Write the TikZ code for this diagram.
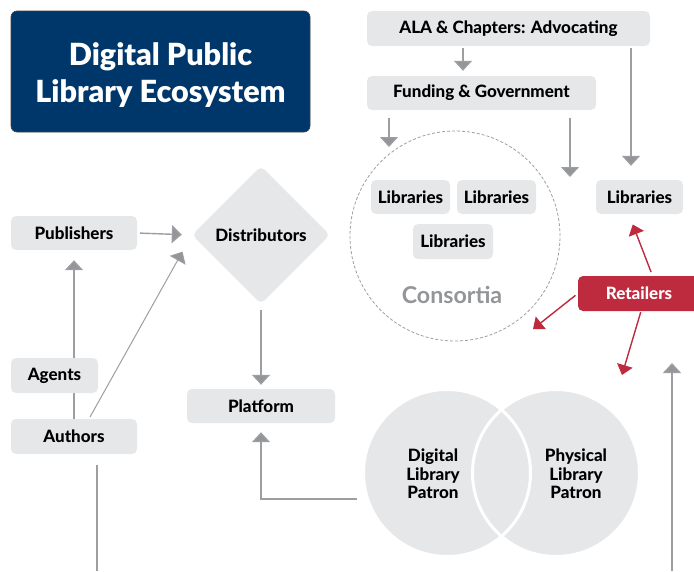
\documentclass[tikz,border=0pt]{standalone}
\usepackage{fontspec}
\setmainfont{Lato}
\newfontfamily\blackfont{Lato Black}
\newfontfamily\heavyfont{Lato Heavy}
\usetikzlibrary{shapes.geometric,arrows.meta,calc}
\definecolor{boxgray}{HTML}{E6E7E8}
\definecolor{linegray}{HTML}{9C9EA1}
\definecolor{navy}{HTML}{00376B}
\definecolor{redbox}{HTML}{BE2A3E}
\definecolor{txtgray}{HTML}{939598}
\begin{document}
\begin{tikzpicture}[x=1pt,y=-1pt,
  boxfont/.style={font=\fontsize{17}{19}\selectfont\heavyfont},
  box/.style={fill=boxgray, rounded corners=5pt, inner sep=0pt, boxfont, text=black},
  arr/.style={draw=linegray, line width=1.4pt, -{Triangle[width=18pt,length=10pt,fill=txtgray]}},
  plainline/.style={draw=linegray, line width=1.4pt},
  redarr/.style={draw=redbox, line width=1.4pt, -{Triangle[width=16pt,length=10pt]}}]
\useasboundingbox (0,0) rectangle (694,571);

% title
\node[fill=navy, draw=black!75, line width=0.6pt, rounded corners=6pt,
      minimum width=299pt, minimum height=121pt, inner sep=0pt] (title) at (160.5,71.5) {};
\node[text=white, align=center, font=\fontsize{30.5}{37}\selectfont\blackfont] (titletext) at (160.5,75)
      {Digital Public\\Library Ecosystem};

% left side
\node[box, minimum width=126pt, minimum height=34pt] (pub) at (74,233) {Publishers};
\node[diamond, aspect=1, fill=boxgray, minimum width=138pt, minimum height=138pt,
      inner sep=0pt, rounded corners=5pt, boxfont] (dist) at (261,235) {Distributors};
\node[box, minimum width=126pt, minimum height=35pt] (authors) at (74,436.5) {Authors};
\node[box, minimum width=148pt, minimum height=34pt] (plat) at (261,406) {Platform};

% top right
\node[box, minimum width=283pt, minimum height=35pt] (ala) at (508.5,28.5) {ALA \& Chapters: Advocating};
\node[box, minimum width=229pt, minimum height=34pt] (fund) at (481.5,93) {Funding \& Government};

% consortia
\node[circle, draw=linegray, dash pattern=on 3pt off 2pt, line width=0.8pt,
      minimum size=210pt, inner sep=0pt] (cons) at (455,236) {};
\node[box, minimum width=79pt, minimum height=34pt] (lib1) at (410.5,197) {Libraries};
\node[box, minimum width=79pt, minimum height=34pt] (lib2) at (496.5,197) {Libraries};
\node[box, minimum width=80pt, minimum height=35pt] (lib3) at (453,241.5) {Libraries};
\node[font=\fontsize{23.2}{26}\selectfont\bfseries, text=txtgray] (constext) at (452,295) {Consortia};

\node[box, minimum width=87pt, minimum height=34pt] (libR) at (639.5,197) {Libraries};
\node[box, fill=redbox, text=white, minimum width=122pt, minimum height=35pt] (ret) at (639,293.5) {Retailers};

% venn
\node[circle, fill=boxgray, minimum size=167pt, inner sep=0pt] (pd) at (447,473) {};
\node[circle, fill=boxgray, minimum size=167pt, inner sep=0pt] (pp) at (556,473) {};
\draw[white, line width=3pt] (pd.center) circle (83.5pt);
\draw[white, line width=3pt] (pp.center) circle (83.5pt);
\node[align=center, font=\fontsize{17}{18.5}\selectfont\heavyfont] (pdtext) at (433,474) {Digital\\Library\\Patron};
\node[align=center, font=\fontsize{17}{18.5}\selectfont\heavyfont] (pptext) at (576,474) {Physical\\Library\\Patron};

% free ends
\coordinate (authbot) at (97,571);
\coordinate (c1) at (389,147);
\coordinate (c2) at (570,177);
\coordinate (c3) at (533,329);
\coordinate (c4) at (622,375);
\coordinate (c5) at (672,571);
\coordinate (c6) at (672,363);

% connectors
\draw[arr, shorten <=3pt, shorten >=10pt] (pub.east) -- (dist.west);
\draw[arr, line width=1pt, shorten <=2pt, shorten >=19pt] ([xshift=15pt]authors.north) -- (dist.west);
\draw[arr, shorten >=10pt] (authors.north) -- (pub.south);
\draw[plainline, shorten <=11pt] ([xshift=23pt]authors.south) -- (authbot);
\draw[arr, shorten <=6pt, shorten >=4pt] (dist.south) -- (plat.north);
\draw[arr, shorten <=6.5pt, shorten >=9pt] ([yshift=-26pt]pd.west) -| (plat.south);
\draw[arr, shorten <=2pt, shorten >=5pt] ([xshift=-45.5pt]ala.south) -- ([xshift=-18.5pt]fund.north);
\draw[arr, shorten <=8pt] ([xshift=-92.5pt]fund.south) -- (c1);
\draw[arr, shorten <=8pt] ([xshift=88.5pt]fund.south) -- (c2);
\draw[arr, shorten <=2pt, shorten >=14pt] ([xshift=122.5pt]ala.south) -- ([xshift=-8.5pt]libR.north);
\draw[redarr, shorten <=4pt, shorten >=11pt] ([xshift=13.5pt]ret.north) -- ([xshift=-10.7pt]libR.south);
\draw[redarr, shorten <=3pt] (ret.west) -- (c3);
\draw[redarr, shorten <=1pt] ([xshift=2pt]ret.south) -- (c4);
\draw[arr] (c5) -- (c6);

% agents drawn over the vertical line
\node[box, minimum width=87pt, minimum height=35pt] (agents) at (54.5,375.5) {Agents};
\end{tikzpicture}
\end{document}
